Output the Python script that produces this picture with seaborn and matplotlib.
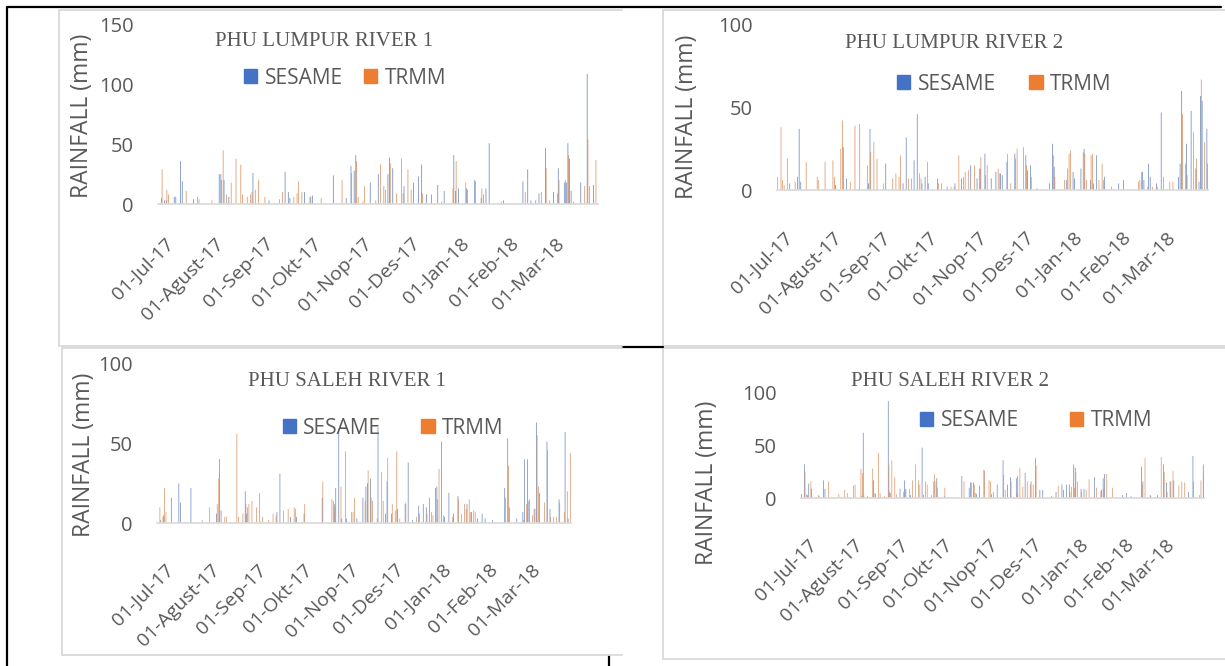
import numpy as np
import pandas as pd
import matplotlib
matplotlib.use("Agg")
import matplotlib.pyplot as plt
import seaborn as sns
from matplotlib.patches import Patch, Rectangle
from matplotlib.lines import Line2D
from matplotlib.transforms import ScaledTranslation

W, H = 1225, 666

START = "2017-07-01"
N_DAYS = 274  # 01-Jul-17 .. 31-Mar-18
TICK_LABELS = ["01-Jul-17", "01-Agust-17", "01-Sep-17", "01-Okt-17", "01-Nop-17",
               "01-Des-17", "01-Jan-18", "01-Feb-18", "01-Mar-18"]
SERIES = ["SESAME", "TRMM"]
COLORS = ["#4472C4", "#ED7D31"]

# daily rainfall in mm as (day index from 01-Jul-17, value); missing days are 0
lumpur1_sesame = [(2, 5), (4, 3), (5, 3), (10, 6), (11, 6), (14, 36), (15, 19), (22, 4), (38, 25),
                  (39, 25), (41, 20), (44, 6), (59, 26), (69, 3), (79, 27), (81, 10), (82, 5), (91, 10),
                  (95, 6), (96, 7), (109, 24), (117, 5), (120, 32), (122, 28), (123, 41), (132, 18),
                  (137, 25), (143, 25), (144, 39), (146, 30), (153, 15), (159, 18), (162, 23), (164, 33),
                  (167, 8), (170, 8), (174, 16), (178, 11), (184, 41), (185, 11), (187, 13), (192, 13),
                  (197, 20), (201, 5), (204, 13), (206, 51), (215, 3), (227, 19), (230, 29), (232, 3),
                  (235, 3), (237, 9), (241, 47), (246, 10), (249, 30), (253, 18), (254, 18), (255, 51),
                  (256, 38), (257, 11), (263, 18), (267, 109), (271, 16)]
lumpur1_trmm = [(2, 29), (5, 12), (6, 8), (17, 11), (24, 6), (25, 4), (33, 3), (39, 20), (40, 45),
                (42, 8), (45, 18), (48, 38), (51, 33), (52, 8), (55, 6), (57, 8), (58, 10), (60, 12),
                (62, 20), (66, 6), (75, 4), (77, 10), (84, 6), (86, 9), (87, 19), (89, 10), (94, 6),
                (101, 5), (114, 20), (120, 26), (123, 36), (124, 6), (127, 2), (128, 15), (135, 3),
                (138, 33), (140, 15), (141, 12), (144, 34), (148, 9), (151, 38), (152, 9), (155, 29),
                (157, 12), (164, 9), (176, 2), (183, 13), (185, 36), (191, 18), (192, 12), (197, 19),
                (201, 13), (202, 8), (213, 2), (228, 10), (238, 10), (241, 30), (243, 3), (248, 9),
                (249, 20), (253, 20), (255, 41), (258, 2), (265, 15), (267, 54), (268, 15), (272, 37)]

lumpur2_sesame = [(0, 8), (8, 4), (13, 8), (14, 37), (15, 5), (37, 3), (42, 26), (44, 7), (58, 4),
                  (59, 37), (69, 16), (80, 4), (82, 32), (87, 18), (89, 46), (92, 4), (94, 8), (96, 4),
                  (102, 7), (108, 2), (113, 4), (117, 7), (123, 15), (127, 7), (129, 13), (132, 22),
                  (136, 7), (139, 11), (142, 10), (143, 9), (146, 17), (151, 22), (158, 21), (159, 12),
                  (161, 15), (165, 1), (173, 4), (175, 28), (176, 14), (184, 6), (188, 11), (189, 7),
                  (193, 13), (195, 25), (199, 6), (201, 4), (203, 21), (208, 8), (217, 4), (220, 6),
                  (232, 11), (233, 6), (236, 16), (237, 8), (241, 4), (244, 47), (255, 8), (256, 16),
                  (257, 60), (260, 28), (263, 48), (266, 13), (268, 5), (269, 57), (270, 54), (273, 37)]
lumpur2_trmm = [(2, 38), (3, 6), (4, 3), (6, 19), (11, 5), (18, 17), (25, 8), (26, 6), (30, 17),
                (35, 18), (36, 8), (40, 25), (41, 42), (46, 5), (49, 39), (52, 40), (57, 15), (59, 23),
                (61, 29), (63, 19), (67, 4), (73, 7), (75, 10), (77, 8), (78, 21), (83, 7), (85, 7),
                (90, 10), (91, 7), (95, 17), (102, 4), (104, 4), (110, 2), (112, 2), (115, 21),
                (118, 8), (119, 11), (121, 12), (125, 15), (128, 13), (129, 20), (132, 9), (133, 15),
                (140, 13), (141, 10), (146, 22), (148, 4), (151, 19), (152, 25), (156, 26), (158, 15),
                (161, 8), (175, 21), (176, 8), (182, 6), (184, 13), (185, 22), (186, 24), (194, 23),
                (195, 22), (196, 6), (199, 21), (200, 22), (204, 6), (206, 16), (207, 6), (212, 2),
                (229, 5), (230, 6), (231, 11), (235, 2), (238, 2), (241, 2), (245, 8), (249, 5),
                (251, 5), (257, 46), (259, 16), (260, 9), (264, 35), (266, 19), (269, 67), (271, 29),
                (273, 16)]

saleh1_sesame = [(2, 2), (4, 5), (9, 16), (14, 25), (15, 13), (22, 22), (39, 6), (41, 40), (42, 8),
                 (58, 20), (59, 6), (68, 1), (79, 7), (81, 31), (88, 4), (92, 4), (97, 6), (109, 16),
                 (117, 12), (118, 22), (120, 59), (122, 3), (125, 3), (132, 3), (136, 16), (138, 23),
                 (139, 25), (141, 28), (146, 60), (151, 6), (152, 26), (155, 6), (159, 9), (164, 12),
                 (166, 38), (169, 2), (173, 11), (176, 12), (178, 10), (180, 16), (184, 22), (185, 23),
                 (188, 51), (190, 4), (193, 19), (196, 6), (199, 17), (205, 12), (208, 7), (212, 3),
                 (215, 6), (217, 3), (222, 2), (230, 22), (232, 53), (233, 10), (238, 3), (242, 7),
                 (243, 40), (245, 40), (246, 14), (250, 9), (251, 63), (253, 19), (258, 51), (260, 9),
                 (266, 15), (270, 57), (272, 3)]
saleh1_trmm = [(1, 10), (3, 4), (4, 22), (5, 7), (17, 1), (29, 2), (34, 10), (39, 12), (40, 28),
               (44, 4), (45, 4), (52, 56), (53, 4), (56, 6), (58, 12), (59, 10), (60, 12), (62, 14),
               (65, 10), (67, 19), (69, 4), (73, 2), (76, 6), (78, 5), (83, 8), (86, 9), (90, 10),
               (91, 9), (97, 12), (109, 26), (115, 15), (116, 14), (117, 10), (121, 23), (124, 45),
               (128, 7), (129, 7), (130, 16), (137, 14), (139, 33), (141, 16), (142, 14), (145, 3),
               (148, 32), (149, 14), (152, 41), (155, 12), (157, 8), (158, 45), (160, 3), (164, 13),
               (171, 4), (173, 6), (178, 6), (181, 7), (182, 5), (185, 15), (186, 34), (189, 5),
               (195, 4), (199, 15), (201, 6), (203, 12), (204, 9), (206, 15), (207, 7), (209, 8),
               (210, 7), (230, 16), (232, 36), (242, 2), (244, 12), (246, 15), (248, 5), (249, 9),
               (251, 55), (252, 23), (256, 13), (258, 46), (260, 4), (262, 4), (264, 4), (266, 13),
               (269, 7), (271, 20), (273, 44)]

saleh2_sesame = [(0, 4), (2, 32), (4, 3), (5, 14), (7, 9), (12, 2), (15, 17), (16, 9), (41, 2),
                 (42, 62), (45, 2), (49, 17), (50, 5), (59, 92), (60, 6), (67, 9), (70, 17), (71, 9),
                 (74, 3), (82, 48), (83, 3), (90, 16), (92, 19), (97, 2), (109, 21), (114, 10),
                 (115, 15), (117, 15), (119, 4), (121, 12), (124, 27), (129, 4), (133, 13), (137, 36),
                 (140, 13), (142, 20), (146, 19), (147, 21), (152, 24), (156, 16), (159, 38), (162, 8),
                 (164, 8), (170, 2), (173, 6), (177, 13), (178, 8), (180, 13), (182, 13), (185, 32),
                 (186, 29), (190, 9), (192, 9), (199, 20), (204, 8), (205, 19), (206, 23), (218, 3),
                 (221, 5), (224, 2), (231, 30), (232, 16), (237, 3), (242, 3), (246, 32), (248, 15),
                 (251, 16), (253, 17), (263, 6), (266, 40), (273, 32)]
saleh2_trmm = [(2, 25), (3, 4), (6, 16), (11, 3), (18, 16), (25, 4), (29, 8), (31, 5), (35, 12),
               (36, 13), (40, 28), (41, 24), (42, 3), (48, 28), (50, 4), (52, 43), (53, 5), (56, 2),
               (59, 32), (60, 5), (61, 36), (63, 20), (64, 4), (69, 6), (70, 8), (73, 9), (75, 17),
               (77, 32), (79, 17), (80, 13), (84, 16), (85, 13), (88, 3), (90, 23), (91, 16), (92, 10),
               (97, 10), (110, 16), (115, 15), (117, 13), (118, 5), (124, 26), (127, 17), (128, 16),
               (130, 6), (137, 22), (138, 8), (142, 16), (146, 5), (148, 29), (150, 11), (153, 16),
               (155, 13), (157, 13), (159, 31), (174, 12), (182, 6), (183, 11), (185, 10), (186, 25),
               (187, 16), (190, 6), (193, 8), (195, 18), (200, 10), (203, 7), (205, 9), (207, 23),
               (211, 10), (231, 13), (233, 38), (237, 2), (244, 39), (246, 25), (248, 6), (250, 16),
               (252, 26), (256, 12), (258, 16), (260, 15), (266, 16), (270, 3), (271, 17), (273, 24)]

# layout in screenshot pixels: axes (left, top, right, bottom), legend centre, title centre, ylabel centre
PANELS = [
    dict(title="PHU LUMPUR RIVER 1", data=(lumpur1_sesame, lumpur1_trmm), ymax=150, yticks=[0, 50, 100, 150],
         box=(157.7, 25, 598, 204), legend=(345, 78), colsp=1.0, title_at=(324, 42), ylab_at=(82, 116),
         xpad=18),
    dict(title="PHU LUMPUR RIVER 2", data=(lumpur2_sesame, lumpur2_trmm), ymax=100, yticks=[0, 50, 100],
         box=(776.7, 25, 1208, 190), legend=(1004, 84), colsp=1.6, title_at=(954, 43), ylab_at=(687, 117),
         xpad=24),
    dict(title="PHU SALEH RIVER 1", data=(saleh1_sesame, saleh1_trmm), ymax=100, yticks=[0, 50, 100],
         box=(157.3, 363.3, 570.7, 523.3), legend=(393, 428), colsp=1.9, title_at=(347, 382), ylab_at=(84, 455),
         xpad=23),
    dict(title="PHU SALEH RIVER 2", data=(saleh2_sesame, saleh2_trmm), ymax=100, yticks=[0, 50, 100],
         box=(801, 392.7, 1204.3, 498.3), legend=(1036, 421), colsp=2.45, title_at=(950, 382), ylab_at=(707, 483),
         xpad=23),
]

TEXT = "#595959"
AXIS = "#D9D9D9"


def daily(pairs):
    vals = np.zeros(N_DAYS)
    for d, v in pairs:
        vals[d] = v
    return vals


def fx(x):
    return x / W


def fy(y):
    return 1 - y / H


sns.set_style("white")
plt.rcParams["font.family"] = ["Open Sans", "DejaVu Sans"]

fig = plt.figure(figsize=(W / 100, H / 100), dpi=100)

# table borders
border = dict(color="black", lw=1.6, transform=fig.transFigure)
fig.lines += [
    Line2D([fx(7), fx(1221)], [fy(7), fy(7)], **border),
    Line2D([fx(7), fx(7)], [fy(7), fy(666)], **border),
    Line2D([fx(622), fx(663)], [fy(347), fy(347)], **border),
    Line2D([fx(609), fx(609)], [fy(656), fy(666)], **border),
]
# chart frames (left-hand charts show no right edge)
frame = dict(color=AXIS, lw=1.3, transform=fig.transFigure)
for l, t, r, b in [(59, 10, 622, 346), (62, 348, 622, 655)]:
    fig.lines.append(Line2D([fx(r), fx(l), fx(l), fx(r)], [fy(t), fy(t), fy(b), fy(b)], **frame))
for l, t, r, b in [(663, 10, 1226, 346), (663, 348, 1226, 659)]:
    fig.patches.append(Rectangle((fx(l), fy(b)), fx(r - l), (b - t) / H, transform=fig.transFigure,
                                 facecolor="none", edgecolor=AXIS, lw=1.3))

month_starts = pd.date_range(START, periods=len(TICK_LABELS), freq="MS")
tick_pos = (month_starts - pd.Timestamp(START)).days - 0.5

for p in PANELS:
    l, t, r, b = p["box"]
    ax = fig.add_axes([fx(l), fy(b), fx(r - l), (b - t) / H])
    frames = []
    for name, pairs in zip(SERIES, p["data"]):
        frames.append(pd.DataFrame({"day": np.arange(N_DAYS), "mm": daily(pairs), "series": name}))
    df = pd.concat(frames, ignore_index=True)
    sns.barplot(data=df, x="day", y="mm", hue="series", palette=COLORS, native_scale=True,
                errorbar=None, width=0.9, linewidth=0, alpha=0.9, snap=False, legend=False, ax=ax)

    ax.set_xlim(-0.5, N_DAYS - 0.5)
    ax.set_ylim(0, p["ymax"])
    ax.set_yticks(p["yticks"])
    ax.set_xticks(tick_pos)
    ax.set_xticklabels(TICK_LABELS, rotation=45, ha="right", rotation_mode="anchor")
    ax.set_xlabel("")
    ax.set_ylabel("")
    for s in ["top", "right", "left"]:
        ax.spines[s].set_visible(False)
    ax.spines["bottom"].set_color(AXIS)
    ax.spines["bottom"].set_linewidth(1.2)
    ax.tick_params(axis="y", length=0, pad=17.5, labelsize=14.5, labelcolor=TEXT)
    ax.tick_params(axis="x", length=4, width=1.2, color=AXIS, pad=p["xpad"], labelsize=14, labelcolor=TEXT)
    for lab in ax.get_xticklabels():
        lab.set_transform(lab.get_transform() + ScaledTranslation(0.07, 0, fig.dpi_scale_trans))

    ax.legend(handles=[Patch(color=c) for c in COLORS], labels=SERIES, loc="center",
              bbox_to_anchor=(fx(p["legend"][0]), fy(p["legend"][1])), bbox_transform=fig.transFigure,
              ncol=2, frameon=False, fontsize=15, handlelength=0.65, handleheight=0.65,
              handletextpad=0.35, columnspacing=p["colsp"], labelcolor=TEXT)

    fig.text(fx(p["title_at"][0]), fy(p["title_at"][1]), p["title"], ha="center", va="center",
             family="Liberation Serif", fontsize=15, color=TEXT)
    fig.text(fx(p["ylab_at"][0]), fy(p["ylab_at"][1]), "RAINFALL (mm)", rotation=90,
             ha="center", va="center", fontsize=16.5, color=TEXT)

fig.savefig("out.png", dpi=100)
